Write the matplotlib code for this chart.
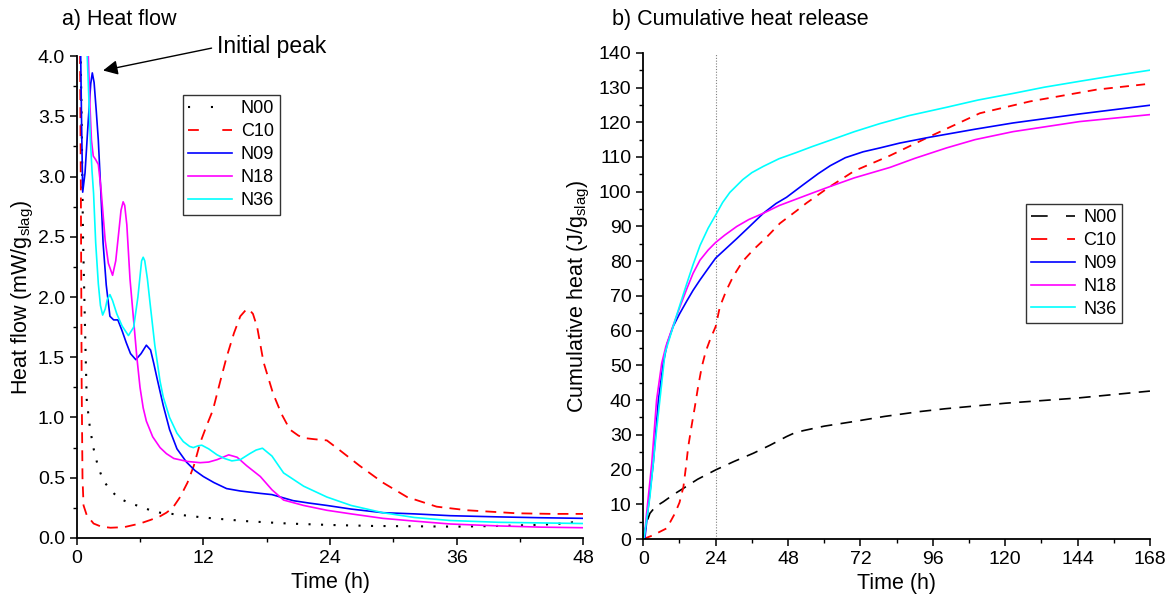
import matplotlib
matplotlib.use("Agg")
import matplotlib.pyplot as plt
from matplotlib.lines import Line2D
from matplotlib.ticker import MultipleLocator, FormatStrFormatter

plt.rcParams['font.family'] = ['Liberation Sans', 'DejaVu Sans']
plt.rcParams['mathtext.default'] = 'regular'

# ---- a) heat flow (mW/g slag) vs time (h)
t_n00 = [0, 0.3, 0.45, 0.6, 0.8, 0.95, 1.2, 1.55, 2.0, 2.5, 3.0, 3.4, 4.0, 5.0, 5.7, 7.0, 7.9, 9, 10, 12, 14, 16, 18, 20, 24, 28, 32, 36, 40, 44, 46, 47, 48]
q_n00 = [4.6, 4.4, 3.6, 2.5, 1.7, 1.15, 0.95, 0.76, 0.6, 0.48, 0.42, 0.38, 0.33, 0.29, 0.27, 0.23, 0.21, 0.2, 0.19, 0.17, 0.155, 0.14, 0.13, 0.12, 0.108, 0.1, 0.097, 0.094, 0.1, 0.11, 0.12, 0.13, 0.12]

t_c10 = [0, 0.3, 0.4, 0.47, 0.55, 0.65, 0.95, 1.6, 2.3, 3.2, 4.5, 6.0, 7.0, 7.9, 8.5, 9.1, 9.8, 10.5, 11.1, 11.7, 12.3, 12.9, 13.6, 14.2, 14.9, 15.5, 16.0, 16.3, 16.7, 17.1, 17.7, 18.6, 19.4, 20.2, 21.0, 21.5, 22.5, 23.7, 24.9, 26.8, 29, 31.3, 34.1, 37, 41.7, 45, 48]
q_c10 = [4.6, 4.3, 2.8, 1.3, 0.5, 0.27, 0.19, 0.12, 0.095, 0.085, 0.09, 0.12, 0.15, 0.18, 0.21, 0.25, 0.34, 0.46, 0.6, 0.79, 0.93, 1.06, 1.3, 1.5, 1.7, 1.84, 1.89, 1.90, 1.86, 1.75, 1.46, 1.2, 1.03, 0.9, 0.85, 0.83, 0.82, 0.81, 0.73, 0.6, 0.46, 0.34, 0.26, 0.23, 0.205, 0.2, 0.2]

t_n09 = [0, 0.2, 0.38, 0.47, 0.57, 0.79, 1.1, 1.33, 1.48, 1.65, 1.85, 2.05, 2.3, 2.5, 2.8, 3.15, 3.5, 3.9, 4.3, 4.7, 5.1, 5.6, 6.1, 6.6, 7.0, 7.3, 7.6, 8.2, 8.8, 9.5, 10.4, 11.2, 12, 13, 14.2, 15.5, 17.4, 18.5, 19.3, 20.5, 22, 23.7, 26, 29, 32, 35.4, 40, 44, 48]
q_n09 = [4.6, 4.4, 4.0, 3.4, 2.87, 3.03, 3.47, 3.77, 3.86, 3.78, 3.55, 3.30, 2.85, 2.45, 2.1, 1.84, 1.81, 1.81, 1.72, 1.62, 1.53, 1.48, 1.53, 1.60, 1.56, 1.45, 1.33, 1.1, 0.9, 0.74, 0.63, 0.56, 0.51, 0.46, 0.41, 0.39, 0.37, 0.36, 0.34, 0.31, 0.29, 0.27, 0.24, 0.21, 0.2, 0.185, 0.175, 0.168, 0.163]

t_n18 = [0, 0.5, 0.9, 1.1, 1.25, 1.4, 1.57, 1.8, 2.05, 2.3, 2.7, 3.0, 3.4, 3.7, 4.0, 4.2, 4.4, 4.55, 4.75, 5.05, 5.4, 5.7, 6.0, 6.3, 6.6, 7.2, 7.9, 8.5, 9.2, 10.5, 11.7, 12.5, 13.3, 14.4, 15.2, 16.1, 17.4, 18.5, 19.6, 21.5, 23.7, 26, 29, 32, 35.4, 40, 44, 48]
q_n18 = [4.6, 4.5, 4.3, 4.0, 3.6, 3.3, 3.17, 3.14, 3.1, 2.9, 2.47, 2.28, 2.18, 2.3, 2.55, 2.72, 2.79, 2.76, 2.6, 2.15, 1.8, 1.5, 1.25, 1.08, 0.97, 0.84, 0.75, 0.7, 0.66, 0.635, 0.625, 0.63, 0.65, 0.69, 0.67, 0.6, 0.51, 0.4, 0.315, 0.27, 0.23, 0.2, 0.163, 0.14, 0.116, 0.1, 0.09, 0.085]

t_n36 = [0, 0.3, 0.6, 0.8, 1.0, 1.15, 1.3, 1.45, 1.6, 1.8, 2.05, 2.25, 2.46, 2.7, 2.9, 3.15, 3.4, 3.8, 4.3, 4.9, 5.4, 5.8, 6.15, 6.3, 6.45, 6.7, 6.95, 7.4, 7.9, 8.2, 8.8, 9.5, 10.1, 10.7, 11.05, 11.5, 11.85, 12.5, 13.3, 14.0, 14.7, 15.5, 16.4, 17.0, 17.6, 18.5, 19.6, 21.5, 23.7, 26, 29, 32, 35.4, 40, 44, 48]
q_n36 = [4.6, 4.6, 4.5, 4.3, 4.0, 3.65, 3.3, 3.05, 2.86, 2.45, 2.11, 1.93, 1.85, 1.9, 1.98, 2.02, 1.97, 1.86, 1.76, 1.68, 1.75, 2.0, 2.3, 2.33, 2.3, 2.15, 1.95, 1.6, 1.3, 1.17, 1.0, 0.87, 0.8, 0.76, 0.75, 0.765, 0.77, 0.74, 0.69, 0.66, 0.64, 0.65, 0.7, 0.73, 0.745, 0.68, 0.54, 0.43, 0.34, 0.27, 0.21, 0.17, 0.145, 0.13, 0.125, 0.12]

# ---- b) cumulative heat (J/g slag) vs time (h)
tc_n00 = [0, 1, 2.2, 4, 6.6, 10, 13.3, 18, 24, 30, 36.5, 42, 47.5, 50, 53, 60, 69.6, 80, 91.7, 100, 120, 144, 168]
h_n00 = [0, 4.5, 7.4, 9.3, 10.7, 12.8, 14.6, 17.2, 19.9, 22.3, 24.7, 27, 29.5, 30.5, 31.2, 32.5, 33.8, 35.3, 36.7, 37.5, 39.1, 40.6, 42.6]

tc_c10 = [0, 3, 7.8, 10.5, 12, 13.3, 14.1, 14.9, 16, 17.1, 18.2, 19.4, 20.7, 22.1, 24, 25.4, 27.5, 29.8, 33, 36.5, 41, 45.3, 50.8, 54.2, 61.9, 70, 81.8, 95, 111.6, 128.2, 150.3, 168]
h_c10 = [0, 1, 3.1, 7.4, 10.5, 15, 20.5, 26.6, 32.5, 38.1, 44, 49.6, 54, 57.3, 61.2, 66.9, 71.5, 75.6, 80, 83.3, 87, 90.9, 94.5, 96.8, 101.5, 106, 110.4, 115.9, 122.6, 126, 129.4, 131.1]

tc_n09 = [0, 0.5, 1.5, 3.3, 5, 6.6, 8, 9.9, 12, 14.4, 16.5, 18.8, 21.5, 24, 27, 31, 35, 39.8, 44, 47.5, 53, 58, 62, 67, 72.9, 78.4, 85, 95, 110, 122.6, 144.7, 168]
h_n09 = [0, 0, 8, 21.8, 40, 50.6, 56.5, 61.2, 64.8, 68.5, 71.6, 74.6, 77.9, 80.9, 83.3, 86.5, 89.8, 93.8, 96.6, 98.4, 102, 105.2, 107.5, 109.8, 111.5, 112.6, 114, 115.7, 118, 119.8, 122.4, 124.9]

tc_n18 = [0, 0.3, 1.1, 2.8, 4.4, 6.1, 7.5, 9.9, 12, 14.4, 16.5, 18.8, 21.5, 24, 27, 31, 35, 39.8, 45, 50.8, 56, 61.9, 70, 81.8, 90, 100.5, 110, 122.6, 144.7, 168]
h_n18 = [0, 0, 7.4, 21.8, 40, 50.6, 55.5, 61.5, 66.5, 72, 76.5, 80.3, 83.2, 85.4, 87.5, 90, 92, 93.8, 96, 97.9, 99.6, 101.5, 104, 107, 109.6, 112.6, 115, 117.3, 120.2, 122.2]

tc_n36 = [0, 0.2, 2.2, 4.4, 7.2, 9.9, 12, 14.4, 16.5, 18.8, 21.5, 24, 26.3, 28.7, 33, 36, 39.8, 45, 50.8, 56, 61.9, 70, 78.4, 88, 100.5, 111, 122.6, 133, 144.7, 156, 168]
h_n36 = [0, 0, 12.2, 31.4, 53.5, 61.2, 67, 73.5, 79, 84.5, 89.5, 93.3, 96.9, 99.8, 103.5, 105.5, 107.3, 109.5, 111.3, 113.0, 114.8, 117.3, 119.6, 121.9, 124.3, 126.4, 128.3, 130.1, 131.8, 133.4, 135.0]

labels = ['N00', 'C10', 'N09', 'N18', 'N36']
colors = ['black', '#ff0000', '#0000ff', '#ff00ff', '#00ffff']

fig = plt.figure(figsize=(11.69, 6.07), dpi=100)
ax1 = fig.add_axes([0.0656, 0.1137, 0.4334, 0.794])
ax2 = fig.add_axes([0.5503, 0.112, 0.4334, 0.801])

lw = 1.2
ax1.plot(t_n00, q_n00, color=colors[0], lw=1.5, linestyle=(0, (1, 5)))
ax1.plot(t_c10, q_c10, color=colors[1], lw=1.3, linestyle=(0, (6, 4)))
ax1.plot(t_n09, q_n09, color=colors[2], lw=lw)
ax1.plot(t_n18, q_n18, color=colors[3], lw=lw)
ax1.plot(t_n36, q_n36, color=colors[4], lw=lw)

ax2.axvline(24, color='gray', lw=0.8, linestyle=(0, (1, 1.5)))
ax2.plot(tc_n00, h_n00, color=colors[0], lw=1.2, linestyle=(0, (7, 5)))
ax2.plot(tc_c10, h_c10, color=colors[1], lw=1.3, linestyle=(0, (5, 4)))
ax2.plot(tc_n09, h_n09, color=colors[2], lw=lw)
ax2.plot(tc_n18, h_n18, color=colors[3], lw=lw)
ax2.plot(tc_n36, h_n36, color=colors[4], lw=lw)

ax1.set_xlim(0, 48)
ax1.set_ylim(0, 4.0)
ax1.xaxis.set_major_locator(MultipleLocator(12))
ax1.xaxis.set_minor_locator(MultipleLocator(6))
ax1.yaxis.set_major_locator(MultipleLocator(0.5))
ax1.yaxis.set_minor_locator(MultipleLocator(0.25))
ax1.yaxis.set_major_formatter(FormatStrFormatter('%.1f'))

ax2.set_xlim(0, 168)
ax2.set_ylim(0, 140)
ax2.xaxis.set_major_locator(MultipleLocator(24))
ax2.xaxis.set_minor_locator(MultipleLocator(12))
ax2.yaxis.set_major_locator(MultipleLocator(10))
ax2.yaxis.set_minor_locator(MultipleLocator(5))

for ax in (ax1, ax2):
    ax.spines['top'].set_visible(False)
    ax.spines['right'].set_visible(False)
    ax.spines['left'].set_linewidth(1.3)
    ax.spines['bottom'].set_linewidth(1.3)
    ax.tick_params(which='major', direction='out', length=5, width=1.1, labelsize=14)
    ax.tick_params(which='minor', direction='out', length=3, width=1.0)
    ax.set_xlabel('Time (h)', fontsize=15.5)

ax1.set_ylabel('Heat flow (mW/g$_{slag}$)', fontsize=15.5, labelpad=1)
ax2.set_ylabel('Cumulative heat (J/g$_{slag}$)', fontsize=15.5, labelpad=5)

# legend handles drawn the way the original legend shows them
h_left = [Line2D([], [], color=colors[0], lw=1.5, linestyle=(0, (1, 10))),
          Line2D([], [], color=colors[1], lw=1.3, linestyle=(0, (6, 13))),
          Line2D([], [], color=colors[2], lw=lw),
          Line2D([], [], color=colors[3], lw=lw),
          Line2D([], [], color=colors[4], lw=lw)]
h_right = [Line2D([], [], color=colors[0], lw=1.2, linestyle=(0, (10, 11))),
           Line2D([], [], color=colors[1], lw=1.3, linestyle=(0, (9, 11))),
           Line2D([], [], color=colors[2], lw=lw),
           Line2D([], [], color=colors[3], lw=lw),
           Line2D([], [], color=colors[4], lw=lw)]

leg_kw = dict(loc='upper left', fontsize=13, frameon=True, fancybox=False,
              handlelength=2.4, handletextpad=0.5, labelspacing=0.33,
              borderpad=0.3, borderaxespad=0)
leg1 = ax1.legend(h_left, labels, bbox_to_anchor=(0.21, 0.919), **leg_kw)
leg2 = ax2.legend(h_right, labels, bbox_to_anchor=(0.755, 0.69), **leg_kw)
for leg in (leg1, leg2):
    leg.get_frame().set_edgecolor('black')
    leg.get_frame().set_linewidth(1.0)

ax1.annotate('Initial peak', xy=(2.5, 3.88), xytext=(13.3, 4.075),
             fontsize=16.5, ha='left', va='center', annotation_clip=False,
             arrowprops=dict(arrowstyle='-|>', color='black', lw=1.0,
                             mutation_scale=22, shrinkA=2, shrinkB=0,
                             relpos=(0, 0.5)))

fig.text(62 / 1169, 1 - 20 / 607, 'a) Heat flow', fontsize=15.5, ha='left', va='center')
fig.text(612 / 1169, 1 - 20 / 607, 'b) Cumulative heat release', fontsize=15.5, ha='left', va='center')

fig.savefig('out.png', dpi=100)
